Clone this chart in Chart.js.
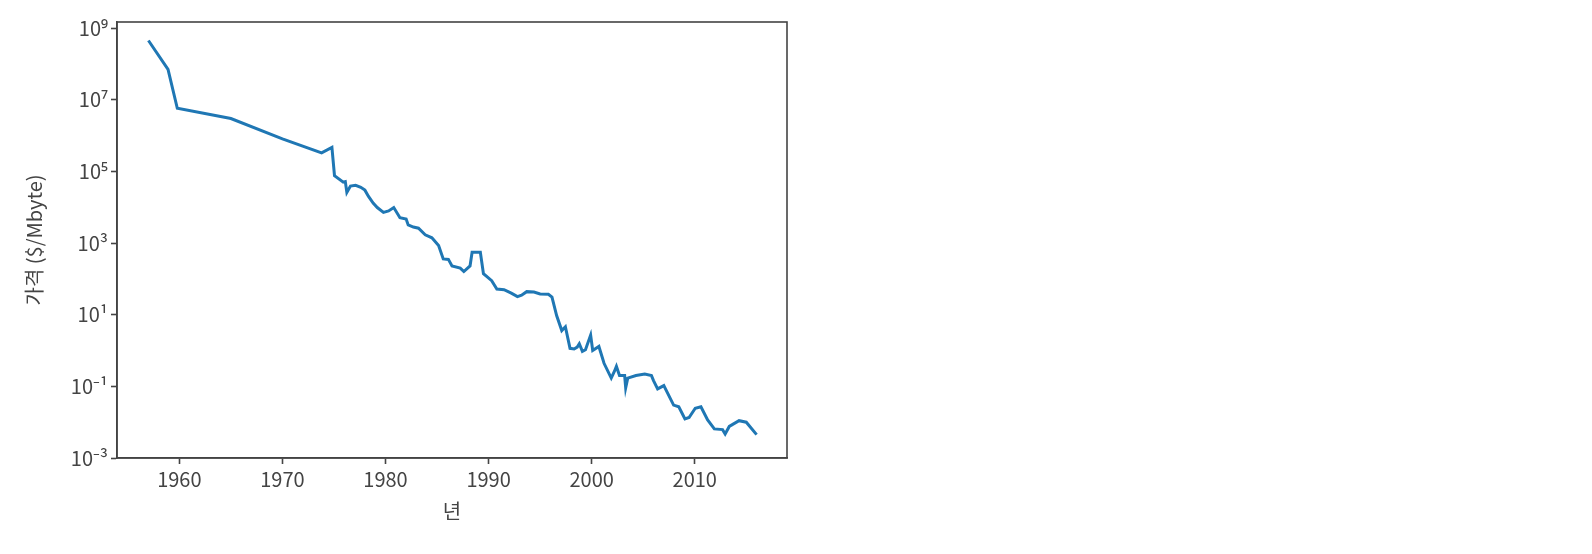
<!DOCTYPE html>
<html>
<head>
<meta charset="utf-8">
<script src="https://cdn.jsdelivr.net/npm/chart.js@4"></script>
<style>
  html, body { margin: 0; padding: 0; background: #fff; }
  #wrap { width: 1592px; height: 554px; }
</style>
</head>
<body>
<div id="wrap"><canvas id="priceChart" width="1592" height="554"></canvas></div>
<script>
'use strict'

// memory price per Mbyte
const years = [
    1957.0, 1958.9, 1959.8, 1965.0, 1970.0, 1973.8, 1974.8, 1975.05, 1975.9, 1976.1,
    1976.25, 1976.6, 1977.1, 1977.6, 1978.0, 1978.35, 1978.8, 1979.2, 1979.8, 1980.3,
    1980.8, 1981.4, 1982.0, 1982.2, 1982.7, 1983.2, 1983.85, 1984.5, 1985.15, 1985.6,
    1986.1, 1986.45, 1987.25, 1987.6, 1988.2, 1988.4, 1989.2, 1989.5, 1990.3, 1990.8,
    1991.5, 1992.2, 1992.8, 1993.2, 1993.7, 1994.4, 1995.0, 1995.8, 1996.15, 1996.6,
    1997.1, 1997.45, 1997.9, 1998.3, 1998.6, 1998.8, 1999.1, 1999.4, 1999.9, 2000.1,
    2000.7, 2001.2, 2001.9, 2002.2, 2002.4, 2002.7, 2003.2, 2003.3, 2003.5, 2004.3,
    2005.15, 2005.8, 2006.0, 2006.4, 2007.0, 2007.95, 2008.45, 2009.05, 2009.45, 2010.05,
    2010.6, 2011.25, 2011.9, 2012.7, 2012.95, 2013.35, 2014.3, 2015.0, 2016.0
];
const prices = [
    4.5e8, 7.0e7, 5.8e6, 3.0e6, 8.1e5, 3.3e5, 4.7e5, 7.6e4, 5.0e4, 5.2e4,
    2.6e4, 3.9e4, 4.1e4, 3.6e4, 3.0e4, 2.0e4, 1.3e4, 9.8e3, 7.2e3, 7.9e3,
    9.8e3, 5.1e3, 4.7e3, 3.2e3, 2.8e3, 2.6e3, 1.7e3, 1.4e3, 850, 360,
    350, 230, 200, 160, 230, 550, 550, 140, 89, 52,
    50, 40, 32, 35, 44, 43, 38, 37, 31, 9.5,
    3.6, 4.6, 1.15, 1.1, 1.25, 1.55, 0.95, 1.05, 2.7, 1.0,
    1.3, 0.44, 0.17, 0.26, 0.36, 0.20, 0.20, 0.091, 0.17, 0.20,
    0.22, 0.20, 0.145, 0.085, 0.105, 0.030, 0.027, 0.0123, 0.0135, 0.0245,
    0.027, 0.0115, 0.0065, 0.0062, 0.0047, 0.0076, 0.011, 0.010, 0.0045
];

const xTicks = [1960, 1970, 1980, 1990, 2000, 2010];
const yTicks = [1e-3, 1e-1, 1e1, 1e3, 1e5, 1e7, 1e9];
const yTickLabels = ['10⁻³', '10⁻¹', '10¹', '10³', '10⁵', '10⁷', '10⁹'];

const FONT = "'Noto Sans CJK KR', 'Noto Sans', sans-serif";
const INK = '#444';

// matplotlib style closed frame around the plot
const framePlugin = {
    id: 'frame',
    afterDraw(chart) {
        const a = chart.chartArea;
        const ctx = chart.ctx;
        ctx.save();
        ctx.strokeStyle = INK;
        ctx.lineWidth = 1.6;
        ctx.strokeRect(a.left, a.top, a.right - a.left, a.bottom - a.top);
        ctx.restore();
    }
};

const points = years.map((y, i) => ({ x: y, y: prices[i] }));

const ctx = document.getElementById('priceChart').getContext('2d');
new Chart(ctx, {
    type: 'line',
    data: {
        datasets: [{
            data: points,
            borderColor: '#1f77b4',
            borderWidth: 3,
            pointRadius: 0,
            fill: false,
            tension: 0
        }]
    },
    options: {
        responsive: false,
        animation: false,
        layout: { padding: { top: 22, right: 805, bottom: 0, left: 0 } },
        plugins: { legend: { display: false }, tooltip: { enabled: false } },
        scales: {
            x: {
                type: 'linear',
                min: 1953.95,
                max: 2018.95,
                afterBuildTicks: (scale) => { scale.ticks = xTicks.map(v => ({ value: v })); },
                afterFit: (scale) => { scale.height = 96; },
                ticks: {
                    color: INK,
                    font: { family: FONT, size: 20 },
                    padding: 3,
                    maxRotation: 0,
                    callback: (v) => String(v)
                },
                grid: { drawOnChartArea: false, drawTicks: true, tickLength: 6, tickColor: INK, tickWidth: 1.6 },
                border: { color: INK, width: 1.6 },
                title: {
                    display: true,
                    text: '년',
                    color: INK,
                    font: { family: FONT, size: 20 },
                    padding: { top: 0, bottom: 31 }
                }
            },
            y: {
                type: 'logarithmic',
                min: 1e-3,
                max: 1.48e9,
                afterBuildTicks: (scale) => { scale.ticks = yTicks.map(v => ({ value: v })); },
                afterFit: (scale) => { scale.width = 117; },
                ticks: {
                    color: INK,
                    font: { family: FONT, size: 20 },
                    padding: 3,
                    callback: (v) => yTickLabels[yTicks.indexOf(v)] || ''
                },
                grid: { drawOnChartArea: false, drawTicks: true, tickLength: 6, tickColor: INK, tickWidth: 1.6 },
                border: { color: INK, width: 1.6 },
                title: {
                    display: true,
                    text: '가격 ($/Mbyte)',
                    color: INK,
                    font: { family: FONT, size: 20 },
                    padding: { top: 22, bottom: 0 }
                }
            }
        }
    },
    plugins: [framePlugin]
});
</script>
</body>
</html>
